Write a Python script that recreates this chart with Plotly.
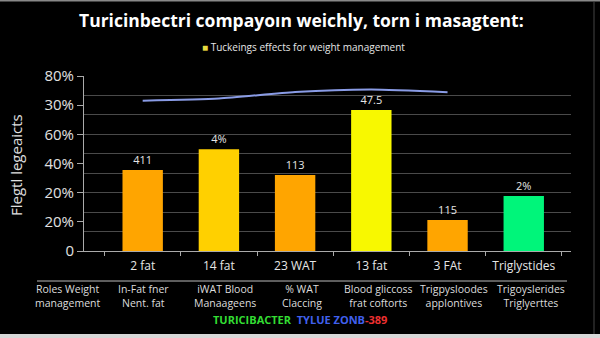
import plotly.graph_objects as go

categories = ["2 fat", "14 fat", "23 WAT", "13 fat", "3 FAt", "Triglystides"]
bar_values = [41.7, 52.3, 39.1, 72.5, 15.9, 28.3]
bar_labels = ["411", "4%", "113", "47.5", "115", "2%"]
bar_colors = ["#FFA500", "#FFD000", "#FFA500", "#F8F800", "#FFA500", "#00F57A"]
line_values = [77.3, 78.4, 81.8, 83.1, 81.7]
ytick_vals = [0, 15, 30, 45, 60, 75, 90]
ytick_text = ["0", "20%", "20%", "40%", "60%", "30%", "80%"]
grid_vals = [0, 10, 20, 30, 40, 50, 60, 70, 80, 90]
sub_labels = ["Roles Weight<br>management", "In-Fat fner<br>Nent. fat", "iWAT Blood<br>Manaageens",
              "% WAT<br>Claccing", "Blood gliccoss<br>frat coftorts", "Trigpysloodes<br>applontives",
              "Trigoyslerides<br>Triglyerttes"]
sub_px = [67, 143, 225, 302, 378, 454, 531]

FONT = "Open Sans"
L, R, T, B = 84, 29, 76, 87
PW, PH = 600 - L - R, 338 - T - B


def px_x(x):
    return (x - L) / PW


def px_y(y):
    return (338 - B - y) / PH


fig = go.Figure()
fig.add_trace(go.Bar(
    x=categories, y=bar_values, marker=dict(color=bar_colors, line=dict(width=0)),
    width=0.53, text=bar_labels, textposition="outside", cliponaxis=False,
    textfont=dict(color="#e6e6e6", size=11, family=FONT), showlegend=False,
))
fig.add_trace(go.Scatter(
    x=categories[:5], y=line_values, mode="lines",
    line=dict(color="#8a9ce6", width=2, shape="spline", smoothing=0.6),
    showlegend=False,
))
# overlay axis carrying the gridlines
fig.add_trace(go.Scatter(x=[categories[0]], y=[None], yaxis="y2", showlegend=False, hoverinfo="skip"))

fig.update_layout(
    width=600, height=338, margin=dict(l=L, r=R, t=T, b=B),
    paper_bgcolor="#000000", plot_bgcolor="#000000",
    xaxis=dict(
        type="category", range=[-0.77, 5.62], tickson="boundaries", ticks="outside", ticklen=4,
        tickcolor="#aaaaaa", showline=True, linecolor="#aaaaaa", linewidth=1, showgrid=False,
        tickfont=dict(color="#e6e6e6", size=12, family=FONT), zeroline=False, ticklabelstandoff=4,
    ),
    yaxis=dict(
        range=[0, 90], tickvals=ytick_vals, ticktext=ytick_text, ticks="outside", ticklen=6,
        tickcolor="#aaaaaa", showline=True, linecolor="#aaaaaa", linewidth=1, showgrid=False,
        zeroline=False, tickfont=dict(color="#e0e0e0", size=15, family=FONT),
    ),
    yaxis2=dict(
        range=[0, 90], overlaying="y", side="left", tickvals=grid_vals, showticklabels=False,
        showgrid=True, gridcolor="#4a4a4a", gridwidth=1, zeroline=False, ticks="",
        layer="below traces",
    ),
    showlegend=False,
)

ann = []
ann.append(dict(text="<b>Turicinbectri compayoın weichly, torn i masagtent:</b>", xref="paper", yref="paper",
                x=px_x(301), y=px_y(20), xanchor="center", yanchor="middle", showarrow=False,
                font=dict(color="#ffffff", size=17.5, family=FONT)))
ann.append(dict(text="<span style='color:#e8dc40'>■</span> Tuckeings effects for weight management",
                xref="paper", yref="paper", x=px_x(303), y=px_y(47), xanchor="center", yanchor="middle",
                showarrow=False, font=dict(color="#e6e6e6", size=10, family=FONT)))
ann.append(dict(text="Flegtl legeaicts", xref="paper", yref="paper", x=px_x(16), y=px_y(165),
                xanchor="center", yanchor="middle",
                textangle=-90, showarrow=False, font=dict(color="#e0e0e0", size=15, family=FONT)))
for p, t in zip(sub_px, sub_labels):
    ann.append(dict(text=t, xref="paper", yref="paper", x=px_x(p), y=px_y(296), showarrow=False,
                    font=dict(color="#dcdcdc", size=10.5, family=FONT), xanchor="center",
                    yanchor="middle"))
ann.append(dict(text="<b><span style='color:#33dd33'>TURICIBACTER</span>  <span style='color:#4060ee'>TYLUE ZONB</span>"
                     "<span style='color:#ee3030'>-389</span></b>",
                xref="paper", yref="paper", x=px_x(300), y=px_y(319), xanchor="center", yanchor="middle",
                showarrow=False, font=dict(size=11, family=FONT)))
fig.update_layout(annotations=ann)

shapes = [
    dict(type="line", xref="paper", yref="paper", x0=px_x(37), x1=px_x(567),
         y0=px_y(281), y1=px_y(281), line=dict(color="#bbbbbb", width=1)),
    dict(type="line", xref="paper", yref="paper", x0=px_x(0), x1=px_x(600),
         y0=px_y(0.5), y1=px_y(0.5), line=dict(color="#888888", width=2)),
    dict(type="rect", xref="paper", yref="paper", x0=px_x(0), x1=px_x(600),
         y0=px_y(338), y1=px_y(334), fillcolor="#d8d8d8", line=dict(width=0)),
    dict(type="line", xref="paper", yref="paper", x0=px_x(594), x1=px_x(594),
         y0=px_y(334), y1=px_y(2), line=dict(color="#444444", width=1)),
]
fig.update_layout(shapes=shapes)
fig.write_html("out.html")
